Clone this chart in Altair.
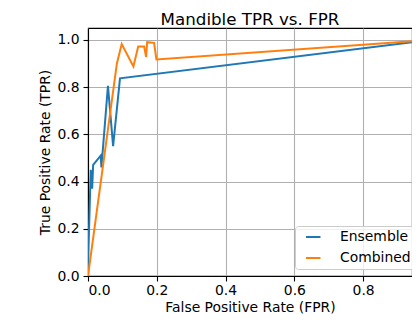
import altair as alt
import pandas as pd

series_names = ["Ensemble", "Combined"]
ens_fpr = [0.0, 0.001, 0.008, 0.012, 0.015, 0.037, 0.039, 0.058, 0.073, 0.093, 1.0]
ens_tpr = [0.0, 0.10, 0.45, 0.37, 0.47, 0.51, 0.46, 0.805, 0.55, 0.837, 1.0]
comb_fpr = [0.0, 0.084, 0.098, 0.132, 0.146, 0.163, 0.169, 0.172, 0.192, 0.199, 1.0]
comb_tpr = [0.0, 0.90, 0.982, 0.887, 0.972, 0.972, 0.927, 0.99, 0.987, 0.917, 1.0]
tick_values = [0.0, 0.2, 0.4, 0.6, 0.8, 1.0]

rows = []
for i, (x, y) in enumerate(zip(ens_fpr, ens_tpr)):
    rows.append({"fpr": x, "tpr": y, "model": "Ensemble", "idx": i})
for i, (x, y) in enumerate(zip(comb_fpr, comb_tpr)):
    rows.append({"fpr": x, "tpr": y, "model": "Combined", "idx": i})
df = pd.DataFrame(rows)

FONT = "DejaVu Sans"

chart = alt.Chart(df).mark_line(strokeWidth=2, clip=True).encode(
    x=alt.X("fpr:Q", title="False Positive Rate (FPR)",
            scale=alt.Scale(domain=[0, 0.942], nice=False, zero=False),
            axis=alt.Axis(values=[0.0, 0.2, 0.4, 0.6, 0.8], format=".1f",
                          labelPadding=2, titlePadding=4)),
    y=alt.Y("tpr:Q", title="True Positive Rate (TPR)",
            scale=alt.Scale(domain=[0, 1.05], nice=False, zero=False),
            axis=alt.Axis(values=tick_values, format=".1f")),
    color=alt.Color("model:N", title=None,
                    scale=alt.Scale(domain=series_names, range=["#1f77b4", "#ff7f0e"]),
                    legend=alt.Legend(orient="none", legendX=207, legendY=198,
                                      symbolType="M0,0H2.5", symbolSize=134,
                                      symbolStrokeWidth=2, labelOffset=27,
                                      labelFontSize=13.9, labelFont=FONT,
                                      labelColor="black",
                                      rowPadding=7, padding=4,
                                      fillColor="rgba(255,255,255,0.8)",
                                      strokeColor="#cccccc", cornerRadius=3)),
    order="idx:Q",
).properties(
    width=324, height=248,
    title=alt.TitleParams("Mandible TPR vs. FPR", fontSize=16.7, font=FONT,
                          fontWeight="normal", color="black", anchor="middle",
                          baseline="alphabetic", offset=5, dy=19),
    autosize=alt.AutoSizeParams(type="none"),
    padding={"left": 80, "top": 20, "right": 0, "bottom": 41},
).configure_view(
    stroke="black", strokeWidth=1.1
).configure_axis(
    grid=True, gridColor="#b0b0b0", gridWidth=1.1,
    domainColor="black", domainWidth=1.1,
    tickColor="black", tickSize=5, tickWidth=1.1,
    labelFont=FONT, labelFontSize=13.9, labelColor="black", labelPadding=4,
    titleFont=FONT, titleFontSize=13.9, titleColor="black", titleFontWeight="normal",
    titlePadding=4,
)

chart.save("out.html", embed_options={"renderer": "svg", "actions": False})
